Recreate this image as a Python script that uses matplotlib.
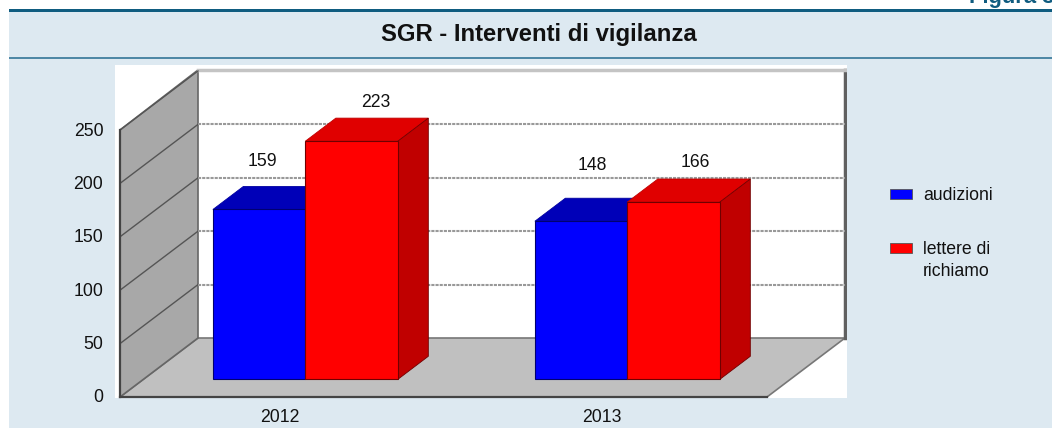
import matplotlib
matplotlib.use("Agg")
import matplotlib.pyplot as plt
from matplotlib.patches import Polygon, Rectangle
from matplotlib.transforms import ScaledTranslation

plt.rcParams['font.family'] = ['Liberation Sans', 'DejaVu Sans']

# datos
anni = ["2012", "2013"]
audizioni = [159, 148]
lettere = [223, 166]
ticks_y = [0, 50, 100, 150, 200, 250]
nombres = ["audizioni", "lettere di\nrichiamo"]

# desplazamiento de cada etiqueta respecto a la cara frontal de su barra, en px
despl_audizioni = [(3, 48), (11.5, 56)]
despl_lettere = [(24.5, 39), (22, 40)]

W, H = 1052, 428
FONDO = "#dde9f1"
TEAL = "#0f5c80"
AZUL = ("#0000ff", "#0000b8", "#0000a0")
ROJO = ("#ff0000", "#e00000", "#c00000")
TAM = 12.7

# escala: px por categoria y px por unidad
PX_X = 322.0
PX_Y = 1.068
# posicion en pixeles del origen del grafico
X0, Y0 = 280.0, 397.0
# vector de profundidad de la caja, en px
FONDO_DX, FONDO_DY = 78.0 / PX_X, 59.0 / PX_Y


def proy(x, v, d):
    # pasa un punto a profundidad d (0 delante, 1 detras)
    return x + d * FONDO_DX, v + d * FONDO_DY


def px_x(p):
    return (p - X0) / PX_X


def px_y(p):
    return (Y0 - p) / PX_Y


def caja(ax):
    top = 250
    techo = px_y(70)
    izq = px_x(120)
    der = px_x(767)
    # suelo
    esq = [proy(izq, 0, 0), proy(der, 0, 0), proy(der, 0, 1), proy(izq, 0, 1)]
    ax.add_patch(Polygon(esq, fc="#c0c0c0", ec="#777777", lw=1.2, zorder=1))
    # pared izquierda
    pared = [proy(izq, 0, 0), proy(izq, 0, 1), (proy(izq, 0, 1)[0], techo), proy(izq, top, 0)]
    ax.add_patch(Polygon(pared, fc="#a8a8a8", ec="#666666", lw=1.2, zorder=1))
    # bordes de la pared del fondo
    xb, yb = proy(der, 0, 1)
    ax.plot([xb, xb], [yb, techo], color="#606060", lw=2.5, zorder=1.5)
    ax.plot([proy(izq, 0, 1)[0], xb], [techo, techo], color="#c4c4c4", lw=2.5, zorder=1.5)
    # rejilla
    for t in ticks_y[1:]:
        a = proy(izq, t, 0)
        b = proy(izq, t, 1)
        ax.plot([a[0], b[0]], [a[1], b[1]], color="#555555", lw=1, zorder=1.6)
        if t < top:
            ax.plot([b[0], xb], [b[1], b[1]], color="#999999", lw=1.5, ls=(0, (1.5, 0.5)), zorder=1.6)


def barra(ax, x, ancho, valor, colores, texto_xy):
    # cara frontal con bar, arriba y lado calculados con el valor
    d0, d1 = 0.3, 0.69
    xf, yf = proy(x, 0, d0)
    oscuro = "#700000" if colores is ROJO else "#000070"
    ax.bar(xf, valor, ancho, bottom=yf, align="edge", color=colores[0],
           edgecolor=oscuro, lw=0.8, zorder=3)
    izq, der, arr = xf, xf + ancho, yf + valor
    dx = (d1 - d0) * FONDO_DX
    dy = (d1 - d0) * FONDO_DY
    ax.add_patch(Polygon([(izq, arr), (der, arr), (der + dx, arr + dy), (izq + dx, arr + dy)],
                         fc=colores[1], ec=colores[2], lw=0.6, zorder=2.5))
    ax.add_patch(Polygon([(der, yf), (der, arr), (der + dx, arr + dy), (der + dx, yf + dy)],
                         fc=colores[2], ec=oscuro, lw=0.6, zorder=2.5))
    ax.annotate(str(valor), xy=(xf + ancho / 2, arr), xytext=texto_xy, textcoords="offset pixels",
                ha="center", va="center", fontsize=TAM, color="#111111", zorder=5)


fig = plt.figure(figsize=(W / 100, H / 100), dpi=100, facecolor="white")

# banda de fondo y titulo
fig.add_artist(Rectangle((9 / W, 0), 1, 1 - 10 / H, transform=fig.transFigure, fc=FONDO, ec="none", zorder=-2))
fig.add_artist(Rectangle((9 / W, 1 - 12 / H), 1, 3 / H, transform=fig.transFigure, fc=TEAL, ec="none", zorder=-1))
fig.add_artist(Rectangle((9 / W, 1 - 59 / H), 1, 2 / H, transform=fig.transFigure, fc="#4f88a6", ec="none", zorder=-1))
fig.text(539 / W, 1 - 34 / H, "SGR - Interventi di vigilanza", ha="center", va="center",
         fontsize=17.2, fontweight="bold", color="#111111")
fig.text(969 / W, 1 - 3 / H, "Figura 3", ha="left", va="baseline", fontsize=15.8,
         fontweight="bold", color=TEAL)

# zona blanca de la imagen
x_a, x_b, y_a, y_b = 115, 847, 65, 398
ax = fig.add_axes([x_a / W, 1 - y_b / H, (x_b - x_a) / W, (y_b - y_a) / H], facecolor="white")
ax.set_xlim(px_x(x_a), px_x(x_b))
ax.set_ylim(px_y(y_b), px_y(y_a))

caja(ax)

ancho = 92.5 / PX_X
hueco = 2 / PX_X
for i in range(len(anni)):
    barra(ax, i - ancho + hueco, ancho, audizioni[i], AZUL, despl_audizioni[i])
    barra(ax, i + hueco, ancho, lettere[i], ROJO, despl_lettere[i])

# ejes
ax.set_xticks(range(len(anni)), anni)
ax.set_yticks(ticks_y)
for lado in ["top", "right"]:
    ax.spines[lado].set_visible(False)
ax.spines["left"].set_position(("data", px_x(120)))
ax.spines["left"].set_bounds(0, 250)
ax.spines["bottom"].set_position(("data", 0))
ax.spines["bottom"].set_bounds(px_x(120), px_x(767))
for lado in ["left", "bottom"]:
    ax.spines[lado].set_color("#444444")
    ax.spines[lado].set_linewidth(1.6)
    ax.spines[lado].set_zorder(2)
ax.tick_params(axis="both", length=0, labelsize=TAM, labelcolor="#111111")
ax.tick_params(axis="y", pad=12)
ax.tick_params(axis="x", pad=9)
# las etiquetas de y van un poco mas arriba que la linea
for etiqueta in ax.get_yticklabels():
    etiqueta.set_transform(etiqueta.get_transform() + ScaledTranslation(0, 1 / 100, fig.dpi_scale_trans))

# leyenda a mano, las etiquetas de dos lineas van alineadas arriba
lx = fig.add_axes([0, 0, 1, 1], facecolor="none")
lx.set_axis_off()
lx.set_xlim(0, W)
lx.set_ylim(H, 0)
for nombre, color, y in zip(nombres, [AZUL[0], ROJO[0]], [189, 243]):
    lx.add_patch(Rectangle((890, y), 22, 10, fc=color, ec="#555555", lw=0.6))
    lx.text(923, y - 2, nombre, ha="left", va="top", fontsize=TAM, color="#111111", linespacing=1.36)

fig.savefig("out.png", dpi=100)
